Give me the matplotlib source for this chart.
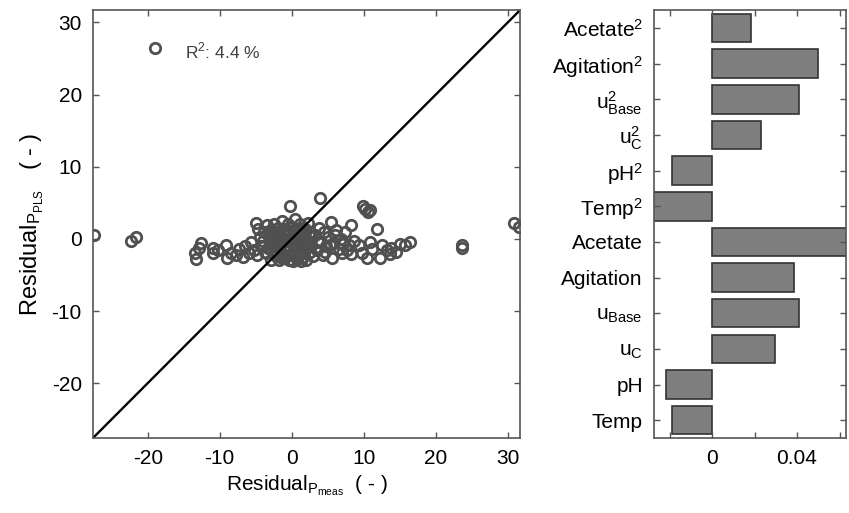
import matplotlib
matplotlib.use('Agg')
import matplotlib.pyplot as plt

plt.rcParams['font.family'] = ['Liberation Sans', 'DejaVu Sans']
plt.rcParams['mathtext.fontset'] = 'custom'
plt.rcParams['mathtext.rm'] = 'Liberation Sans'
plt.rcParams['axes.unicode_minus'] = False

resid_meas = [
    -19.0, -27.5, -22.3, -21.6, 23.7, 23.7, 30.9, 31.5, 9.9, 10.2, 10.6, 10.9, 3.9, -0.3,
    -13.3, -13.5, -12.6, -12.9, -11.0, -10.9, -10.2, -9.1, -9.0, -8.5, -7.8, -7.3, -6.8,
    -6.5, -6.0, -5.6, -5.3, -5.0, -4.7, -4.8, -4.4, -4.2, -3.9, -3.6, -3.5,
    -3.0, -2.8, -2.7, -2.5, -2.4, -2.2, -2.0, -1.9, -1.8, -1.6, -1.5, -1.3, -1.2, -1.0,
    -0.9, -0.8, -0.7, -0.5, -0.4, -0.3, -0.2, 0.0, 0.1, 0.2, 0.3, 0.4, 0.5, 0.6, 0.7,
    0.8, 0.9, 1.0, 1.1, 1.2, 1.4, 1.5, 1.6, 1.8, 1.9, 2.0, 2.2, 2.3, 2.5, 2.6, 2.8, 3.0,
    -2.9, -1.4, 0.2, 1.3, -0.6, 0.0, -1.0, 0.5, 1.0, -2.0,
    -3.3, -3.1, -2.6, -2.3, -2.1, -1.7, -1.4, -1.1, -0.8, -0.6, -0.3, -0.1, 0.3, 0.6,
    0.9, 1.2, 1.5, 1.7, 2.1, 2.4, -4.0, -3.7, -3.2, -2.0, -1.2, -0.5, 0.4, 1.1, 1.8, 2.7,
    3.3, 3.5, 3.8, 4.0, 4.3, 4.5, 4.8, 5.1, 5.5, 5.6, 5.9, 6.2, 6.5, 6.8, 7.1, 7.4, 7.7,
    8.0, 8.3, 8.3, 8.7, 3.6, 4.6, 5.3, 6.0, 7.0,
    9.4, 9.8, 10.4, 10.8, 11.2, 11.9, 12.2, 12.6, 13.2, 13.6, 13.8, 14.5, 15.0, 15.7, 16.4,
]
resid_pls = [
    26.5, 0.6, -0.3, 0.3, -0.9, -1.2, 2.2, 1.7, 4.6, 4.1, 3.7, 4.0, 5.6, 4.5,
    -2.8, -1.9, -0.6, -1.3, -1.2, -2.0, -1.6, -0.9, -2.6, -1.9, -2.2, -1.4, -2.5,
    -1.0, -2.0, -0.5, -1.6, 2.2, 1.4, -2.3, 0.3, -1.0, 0.9, -2.0, 1.9,
    -0.4, 1.2, -1.6, 2.0, 0.3, -2.4, -0.9, 1.5, -2.9, 0.6, -1.8, 2.5, -0.2, 1.1,
    -2.5, -1.1, 0.0, 2.1, -2.9, 0.8, -1.6, 1.6, -0.6, -2.2, 0.4, 2.8, -1.3, 1.2, -2.8,
    -0.2, 0.9, -1.8, 2.0, -0.8, 0.5, -2.5, 1.5, -1.2, 0.1, -2.9, 2.2, -0.5, 1.0, -1.8, 0.3, -2.4,
    -2.9, -2.6, -3.0, -3.0, 0.5, -0.4, -1.5, 0.6, 0.1, 0.8,
    -1.2, 0.2, -0.6, -2.0, 1.0, -1.3, 0.2, -2.2, 1.4, -0.9, -2.2, 0.3, -1.7, -0.6,
    -2.3, 0.9, -0.2, -2.0, -1.1, 0.6, -0.3, -1.8, 1.1, -0.2, -0.5, -1.0, 1.2, -0.3, 1.4, -1.0,
    0.6, -1.5, 1.5, -0.4, -2.3, 0.9, -1.0, 0.2, 2.3, -2.6, -0.6, 1.2, -1.4, 0.0, -0.7, 1.0, -1.6,
    -0.9, 1.9, -2.1, -0.3, -0.5, -1.8, -0.9, 0.5, -1.9,
    -0.9, -2.0, -2.6, -0.5, -1.4, 1.4, -2.6, -0.9, -1.6, -2.1, -1.2, -1.8, -0.7, -0.9, -0.5,
]
r2_text = 'R$^2$: 4.4 %'
lims = [-27.6, 31.7]

# regression coefficients, bottom to top
coef_names = [
    'Temp', 'pH', r'u$\mathregular{_C}$', r'u$\mathregular{_{Base}}$', 'Agitation', 'Acetate',
    r'Temp$\mathregular{^2}$', r'pH$\mathregular{^2}$', r'u$\mathregular{^2_C}$',
    r'u$\mathregular{^2_{Base}}$', r'Agitation$\mathregular{^2}$', r'Acetate$\mathregular{^2}$',
]
coef_values = [-0.0187, -0.0218, 0.0295, 0.0411, 0.0386, 0.065,
               -0.028, -0.0187, 0.0229, 0.0411, 0.0497, 0.0182]

fig = plt.figure(figsize=(8.49, 5.13), dpi=100)
ax1 = fig.add_axes([0.1095, 0.1462, 0.503, 0.834])
ax2 = fig.add_axes([0.7703, 0.1462, 0.2261, 0.834])

ax1.plot(resid_meas, resid_pls, ls='', marker='o', ms=7.5, mfc='none',
         mec='#505050', mew=2.0)
ax1.plot(lims, lims, color='black', lw=1.7)
ax1.set_xlim(lims)
ax1.set_ylim(lims)
ax1.set_xticks([-20, -10, 0, 10, 20, 30])
ax1.set_yticks([-20, -10, 0, 10, 20, 30])
ax1.text(-14.8, 26.0, r2_text, fontsize=12.5, color='#404040', va='center')
ax1.set_xlabel(r'Residual$\mathregular{_{P_{meas}}}$  ( - )', fontsize=15, labelpad=4)
ax1.set_ylabel(r'Residual$\mathregular{_{P_{PLS}}}$   ( - )', fontsize=17, labelpad=4)

ax2.barh(range(len(coef_values)), coef_values, height=0.8, color='#7f7f7f',
         edgecolor='#333333', linewidth=1.2)
ax2.set_ylim(-0.5, len(coef_values) - 0.5)
ax2.set_xlim(-0.0273, 0.063)
ax2.set_yticks(range(len(coef_names)))
ax2.set_yticklabels(coef_names)
ax2.set_xticks([-0.02, 0, 0.02, 0.04, 0.06])
ax2.set_xticklabels(['', '0', '', '0.04', ''])

for ax in (ax1, ax2):
    ax.tick_params(direction='in', top=True, right=True, length=4, width=1,
                   color='#555555', labelsize=15, pad=8)
    for s in ax.spines.values():
        s.set_color('#555555')
        s.set_linewidth(1.2)

fig.savefig('out.png', dpi=100)
